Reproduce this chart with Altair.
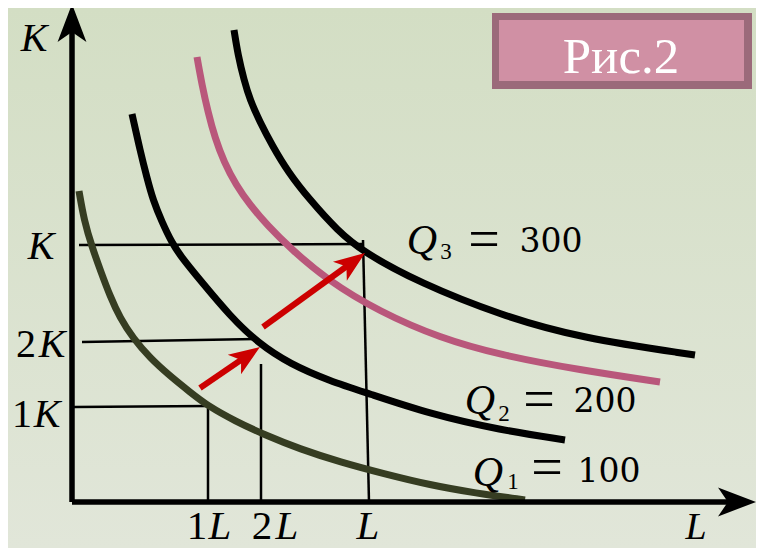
import altair as alt
import pandas as pd
import numpy as np

# ---- isoquants: L (x) and K (y) values ----
q1_L = [7, 12, 20, 29, 38, 48, 61, 78, 98, 118, 136, 163, 193, 228, 268, 313, 358, 403, 453]
q1_K = [311, 282, 255, 230, 206, 184, 164, 144, 126, 110, 96, 81, 67, 53, 40, 28, 17, 9, 2]
q2_L = [60, 68, 75, 81, 90, 100, 110, 128, 158, 186, 218, 258, 295, 358, 428, 493]
q2_K = [388, 352, 324, 302, 280, 259, 244, 222, 186, 159, 138, 121, 109, 88, 72, 62]
qp_L = [125, 130, 136, 143, 152, 164, 178, 196, 218, 255, 308, 368, 428, 508, 588]
qp_K = [445, 417, 390, 364, 340, 317, 297, 276, 254, 222, 190, 164, 147, 132, 120]
q3_L = [162, 166, 172, 178, 188, 200, 216, 238, 265, 291, 348, 428, 508, 623]
q3_K = [472, 447, 422, 402, 380, 357, 330, 302, 272, 250, 219, 187, 164, 147]

# ---- guide lines (dropping to axes) ----
guide_L1 = [7, 10, 2, 136, 189, 291]
guide_K1 = [257, 160, 95, 96, 138, 262]
guide_L2 = [291, 186, 136, 136, 189, 297]
guide_K2 = [258, 163, 96, 0, 0, 0]

# ---- red arrows ----
arrow_L0 = [128, 191]
arrow_K0 = [114, 175]
arrow_L1 = [188, 293]
arrow_K1 = [155, 249]

# ---- axes ----
axis_end_L = [0, 684]
axis_end_K = [498, 0]

# ---- labels ----
ital_text = ["K", "K", "K", "K", "L", "L", "L", "L", "Q", "Q", "Q"]
ital_L = [-38, -31, -20, -25, 148, 215, 296, 624, 350, 408, 416]
ital_K = [451, 243, 145, 75, -37, -37, -37, -37, 248, 88, 16]
ital_size = [40, 40, 40, 40, 41, 41, 41, 38, 42, 42, 42]

up_text = ["2", "1", "1", "2", "3", "2", "1", "=", "=", "="]
up_L = [-46, -50, 125, 190, 374, 432, 441, 412, 467, 475]
up_K = [145, 75, -37, -37, 243, 81, 13, 244, 84, 16]
up_size = [40, 40, 41, 41, 23, 23, 23, 56, 56, 56]

q_values = ["300", "200", "100"]
q_val_L = [479, 533, 537]
q_val_K = [250, 90, 20]

box_title = "Рис.2"

XD = [-64, 684]
YD = [-46, 494]


def X(f):
    return alt.X(f, type="quantitative", scale=alt.Scale(domain=XD, nice=False, zero=False), axis=None)


def Y(f):
    return alt.Y(f, type="quantitative", scale=alt.Scale(domain=YD, nice=False, zero=False), axis=None)


# background gradient
bg = alt.Chart(pd.DataFrame({"a": [0]})).mark_rect(
    color={"gradient": "linear", "x1": 0, "y1": 0, "x2": 0, "y2": 1,
           "stops": [{"offset": 0, "color": "#d3dec4"}, {"offset": 1, "color": "#e1e6d9"}]}
).encode(x=alt.value(0), x2=alt.value(748), y=alt.value(0), y2=alt.value(540))

# guides
gdf = pd.DataFrame({"x": guide_L1, "y": guide_K1, "x2": guide_L2, "y2": guide_K2})
guides = alt.Chart(gdf).mark_rule(color="#000000", strokeWidth=2.5).encode(
    x=X("x"), y=Y("y"), x2=alt.X2("x2"), y2=alt.Y2("y2"))


def curve(Ls, Ks, color):
    df = pd.DataFrame({"x": Ls, "y": Ks})
    return alt.Chart(df).mark_line(color=color, strokeWidth=7, interpolate="basis").encode(
        x=X("x"), y=Y("y"), order="x:Q")


c1 = curve(q1_L, q1_K, "#363d22")
c2 = curve(q2_L, q2_K, "#000000")
cp = curve(qp_L, qp_K, "#b9577b")
c3 = curve(q3_L, q3_K, "#000000")

# red arrows
a0 = np.array([arrow_L0, arrow_K0], dtype=float).T
a1 = np.array([arrow_L1, arrow_K1], dtype=float).T
d = a1 - a0
u = d / np.linalg.norm(d, axis=1, keepdims=True)
shaft_end = a1 - 20 * u
ang = np.degrees(np.arctan2(d[:, 0], d[:, 1]))
adf = pd.DataFrame({"x": a0[:, 0], "y": a0[:, 1], "x2": shaft_end[:, 0], "y2": shaft_end[:, 1],
                    "tx": a1[:, 0], "ty": a1[:, 1], "ang": ang})
HEAD = "M0,0L0.38,1L0,0.74L-0.38,1Z"
shafts = alt.Chart(adf).mark_rule(color="#cc0000", strokeWidth=6).encode(
    x=X("x"), y=Y("y"), x2=alt.X2("x2"), y2=alt.Y2("y2"))
heads = alt.Chart(adf).mark_point(shape=HEAD, filled=True, color="#cc0000", opacity=1,
                                  strokeWidth=0, size=3844).encode(
    x=X("tx"), y=Y("ty"), angle=alt.Angle("ang:Q", scale=None))

# axes
axdf = pd.DataFrame({"x": [0, 0], "y": [0, 0], "x2": [0, 658], "y2": [470, 0],
                     "tx": axis_end_L, "ty": axis_end_K, "ang": [0, 90]})
axlines = alt.Chart(axdf).mark_rule(color="#000000", strokeWidth=5.5).encode(
    x=X("x"), y=Y("y"), x2=alt.X2("x2"), y2=alt.Y2("y2"))
axheads = alt.Chart(axdf).mark_point(shape=HEAD, filled=True, color="#000000", opacity=1,
                                     strokeWidth=0, size=5776).encode(
    x=X("tx"), y=Y("ty"), angle=alt.Angle("ang:Q", scale=None))

# labels
idf = pd.DataFrame({"t": ital_text, "x": ital_L, "y": ital_K, "s": ital_size})
itxt = alt.Chart(idf).mark_text(font="Liberation Serif", fontStyle="italic", color="#000000",
                                align="center", baseline="alphabetic").encode(
    x=X("x"), y=Y("y"), text="t:N", size=alt.Size("s:Q", scale=None))
udf = pd.DataFrame({"t": up_text, "x": up_L, "y": up_K, "s": up_size})
utxt = alt.Chart(udf).mark_text(font="Liberation Serif", color="#000000",
                                align="center", baseline="alphabetic").encode(
    x=X("x"), y=Y("y"), text="t:N", size=alt.Size("s:Q", scale=None))
vdf = pd.DataFrame({"t": q_values, "x": q_val_L, "y": q_val_K})
vtxt = alt.Chart(vdf).mark_text(font="DejaVu Serif", fontSize=33, color="#000000",
                                align="center", baseline="alphabetic").encode(
    x=X("x"), y=Y("y"), text="t:N")

# figure box
bdf = pd.DataFrame({"x": [420], "x2": [680], "y": [489], "y2": [413],
                    "ix": [427], "ix2": [672], "iy": [482], "iy2": [421],
                    "t": [box_title], "tx": [549], "ty": [429]})
outer = alt.Chart(bdf).mark_rect(color="#9b6a7a").encode(
    x=X("x"), x2=alt.X2("x2"), y=Y("y"), y2=alt.Y2("y2"))
inner = alt.Chart(bdf).mark_rect(color="#d090a4").encode(
    x=X("ix"), x2=alt.X2("ix2"), y=Y("iy"), y2=alt.Y2("iy2"))
btxt = alt.Chart(bdf).mark_text(font="Liberation Serif", fontSize=51, color="#ffffff",
                                align="center", baseline="alphabetic").encode(
    x=X("tx"), y=Y("ty"), text="t:N")

chart = alt.layer(bg, guides, c1, c2, cp, c3, shafts, heads, axlines, axheads,
                  itxt, utxt, vtxt, outer, inner, btxt).properties(
    width=748, height=540, padding=0,
    autosize=alt.AutoSizeParams(type="none"),
    background="#dbe3d0"
).configure_view(stroke=None)

chart.save("out.html", embed_options={"renderer": "svg", "actions": False})
